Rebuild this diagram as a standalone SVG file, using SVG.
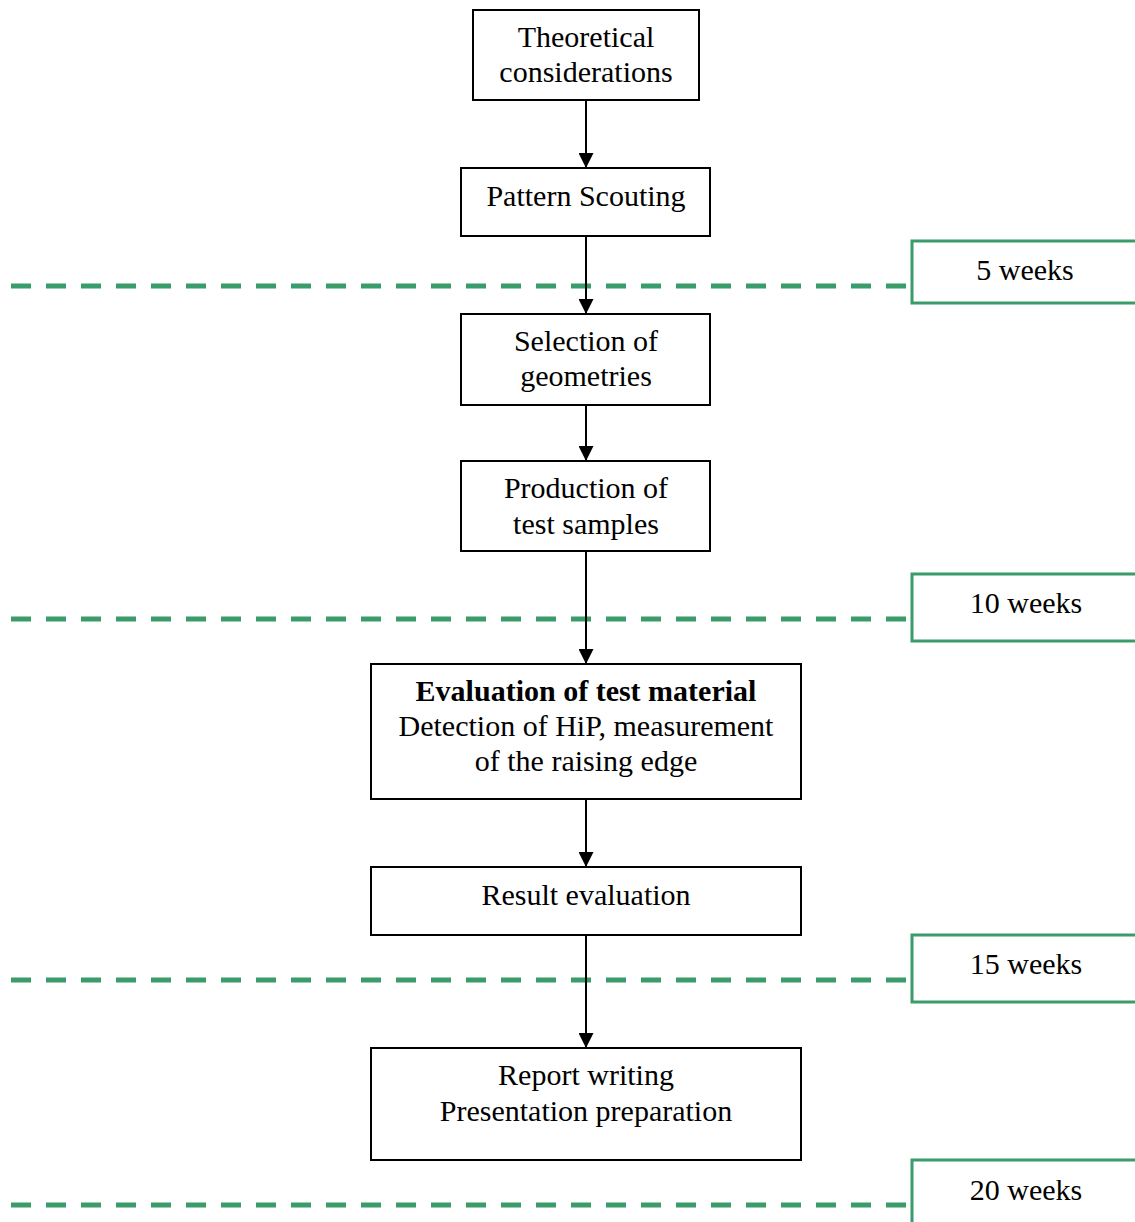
<svg xmlns="http://www.w3.org/2000/svg" width="1135" height="1222" viewBox="0 0 1135 1222">
  <style>
    .box { fill: #ffffff; stroke: #000000; stroke-width: 2; }
    .lbl { font-family: "Liberation Serif", "Times New Roman", serif; font-size: 30px; fill: #000000; text-anchor: middle; }
    .bold { font-weight: bold; }
    .wk { fill: #ffffff; stroke: #3a9b6b; stroke-width: 3; }
    .dash { stroke: #3a9b6b; stroke-width: 5; stroke-dasharray: 20 15; fill: none; }
    .flow { stroke: #000000; stroke-width: 2; fill: none; marker-end: url(#arrow); }
  </style>
  <defs>
    <marker id="arrow" markerWidth="15" markerHeight="15" refX="15" refY="7.5" orient="auto" markerUnits="userSpaceOnUse" viewBox="0 0 15 15">
      <path d="M0,0 L15,7.5 L0,15 Z" fill="#000000"/>
    </marker>
  </defs>

  <rect width="1135" height="1222" fill="#ffffff"/>

  <!-- timeline milestones -->
  <g id="milestones">
    <g id="m5">
      <line class="dash" x1="11" y1="286" x2="910" y2="286"/>
      <rect class="wk" x="912" y="241" width="240" height="62"/>
      <text class="lbl" x="1025" y="280">5 weeks</text>
    </g>
    <g id="m10">
      <line class="dash" x1="11" y1="619" x2="910" y2="619"/>
      <rect class="wk" x="912" y="574" width="240" height="67"/>
      <text class="lbl" x="1026" y="613">10 weeks</text>
    </g>
    <g id="m15">
      <line class="dash" x1="11" y1="980" x2="910" y2="980"/>
      <rect class="wk" x="912" y="935" width="240" height="67"/>
      <text class="lbl" x="1026" y="974">15 weeks</text>
    </g>
    <g id="m20">
      <line class="dash" x1="11" y1="1205" x2="910" y2="1205"/>
      <rect class="wk" x="912" y="1160" width="240" height="80"/>
      <text class="lbl" x="1026" y="1200">20 weeks</text>
    </g>
  </g>

  <!-- connectors -->
  <g id="connectors">
    <line class="flow" x1="586" y1="100" x2="586" y2="168"/>
    <line class="flow" x1="586" y1="236" x2="586" y2="314"/>
    <line class="flow" x1="586" y1="405" x2="586" y2="461"/>
    <line class="flow" x1="586" y1="551" x2="586" y2="664"/>
    <line class="flow" x1="586" y1="799" x2="586" y2="867"/>
    <line class="flow" x1="586" y1="935" x2="586" y2="1048"/>
  </g>

  <!-- process steps -->
  <g id="theoretical">
    <rect class="box" x="473" y="10" width="226" height="90"/>
    <text class="lbl" x="586" y="47">Theoretical</text>
    <text class="lbl" x="586" y="82">considerations</text>
  </g>
  <g id="scouting">
    <rect class="box" x="461" y="168" width="249" height="68"/>
    <text class="lbl" x="586" y="206">Pattern Scouting</text>
  </g>
  <g id="selection">
    <rect class="box" x="461" y="314" width="249" height="91"/>
    <text class="lbl" x="586" y="351">Selection of</text>
    <text class="lbl" x="586" y="386">geometries</text>
  </g>
  <g id="production">
    <rect class="box" x="461" y="461" width="249" height="90"/>
    <text class="lbl" x="586" y="498">Production of</text>
    <text class="lbl" x="586" y="534">test samples</text>
  </g>
  <g id="evaluation">
    <rect class="box" x="371" y="664" width="430" height="135"/>
    <text class="lbl bold" x="586" y="701">Evaluation of test material</text>
    <text class="lbl" x="586" y="736">Detection of HiP, measurement</text>
    <text class="lbl" x="586" y="771">of the raising edge</text>
  </g>
  <g id="result">
    <rect class="box" x="371" y="867" width="430" height="68"/>
    <text class="lbl" x="586" y="905">Result evaluation</text>
  </g>
  <g id="report">
    <rect class="box" x="371" y="1048" width="430" height="112"/>
    <text class="lbl" x="586" y="1085">Report writing</text>
    <text class="lbl" x="586" y="1121">Presentation preparation</text>
  </g>
</svg>
